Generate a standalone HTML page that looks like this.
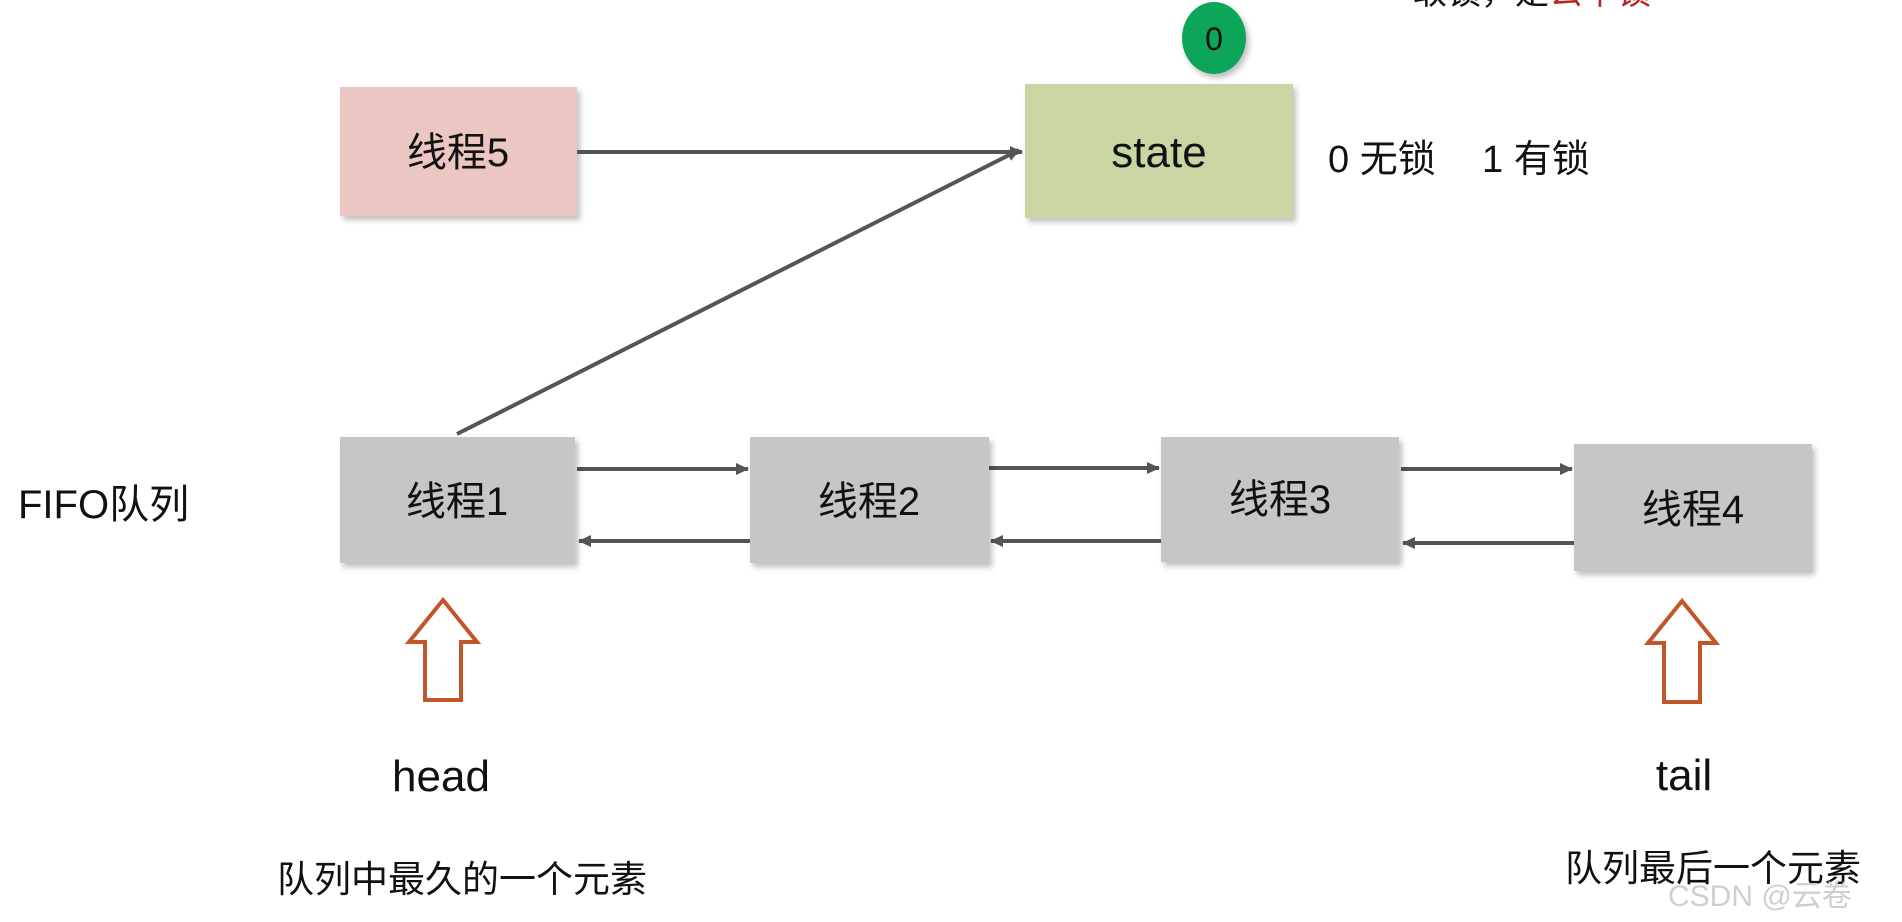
<!DOCTYPE html>
<html><head><meta charset="utf-8"><style>
html,body{margin:0;padding:0;background:#fff;width:1902px;height:922px;overflow:hidden}
svg{display:block}
text{font-family:"Liberation Sans","Noto Sans CJK SC",sans-serif;fill:#111}
</style></head><body>
<svg width="1902" height="922" viewBox="0 0 1902 922" xmlns="http://www.w3.org/2000/svg">
<defs>
<filter id="sh" x="-10%" y="-10%" width="130%" height="130%"><feDropShadow dx="3" dy="4" stdDeviation="3" flood-color="#000" flood-opacity="0.25"/></filter>
<marker id="ar" markerWidth="14" markerHeight="14" refX="12" refY="7" orient="auto" markerUnits="userSpaceOnUse"><path d="M0,1 L13,7 L0,13 z" fill="#555"/></marker>
</defs>
<text x="1413" y="4" font-size="34">取锁，是<tspan fill="#b22">公平锁</tspan></text>
<ellipse cx="1214" cy="38" rx="32" ry="36" fill="#0ba55a" filter="url(#sh)"/>
<text x="1214" y="50" font-size="32" text-anchor="middle">0</text>
<rect x="340" y="87" width="237" height="129" fill="#ebc6c2" filter="url(#sh)"/>
<text x="458" y="166" font-size="40" text-anchor="middle">线程5</text>
<rect x="1025" y="84" width="268" height="134" fill="#c9d6a3" filter="url(#sh)"/>
<text x="1159" y="167" font-size="44" text-anchor="middle">state</text>
<text x="1328" y="172" font-size="38">0 无锁</text>
<text x="1482" y="172" font-size="38">1 有锁</text>
<g stroke="#555" stroke-width="4" fill="none">
<line x1="577" y1="152" x2="1022" y2="152" marker-end="url(#ar)"/>
<line x1="457" y1="434" x2="1019" y2="150" marker-end="url(#ar)"/>
<line x1="577" y1="469" x2="748" y2="469" marker-end="url(#ar)"/>
<line x1="750" y1="541" x2="579" y2="541" marker-end="url(#ar)"/>
<line x1="989" y1="468" x2="1159" y2="468" marker-end="url(#ar)"/>
<line x1="1161" y1="541" x2="991" y2="541" marker-end="url(#ar)"/>
<line x1="1401" y1="469" x2="1572" y2="469" marker-end="url(#ar)"/>
<line x1="1574" y1="543" x2="1403" y2="543" marker-end="url(#ar)"/>
</g>
<rect x="340" y="437" width="235" height="126" fill="#c6c6c6" filter="url(#sh)"/>
<rect x="750" y="437" width="239" height="126" fill="#c6c6c6" filter="url(#sh)"/>
<rect x="1161" y="437" width="238" height="125" fill="#c6c6c6" filter="url(#sh)"/>
<rect x="1574" y="444" width="238" height="127" fill="#c6c6c6" filter="url(#sh)"/>
<text x="457" y="515" font-size="40" text-anchor="middle">线程1</text>
<text x="869" y="515" font-size="40" text-anchor="middle">线程2</text>
<text x="1280" y="513" font-size="40" text-anchor="middle">线程3</text>
<text x="1693" y="523" font-size="40" text-anchor="middle">线程4</text>
<text x="18" y="518" font-size="40">FIFO队列</text>
<g fill="#fff" stroke="#c0562a" stroke-width="4">
<path d="M443,600 L477,642 L461,642 L461,700 L425,700 L425,642 L409,642 Z"/>
<path d="M1682,601 L1716,643 L1700,643 L1700,702 L1664,702 L1664,643 L1648,643 Z"/>
</g>
<text x="441" y="791" font-size="44" text-anchor="middle">head</text>
<text x="1684" y="790" font-size="44" text-anchor="middle">tail</text>
<text x="277" y="892" font-size="37">队列中最久的一个元素</text>
<text x="1565" y="881" font-size="37">队列最后一个元素</text>
<text x="1668" y="906" font-size="30" style="fill:#cfcfcf">CSDN @云卷</text>
</svg>
</body></html>
